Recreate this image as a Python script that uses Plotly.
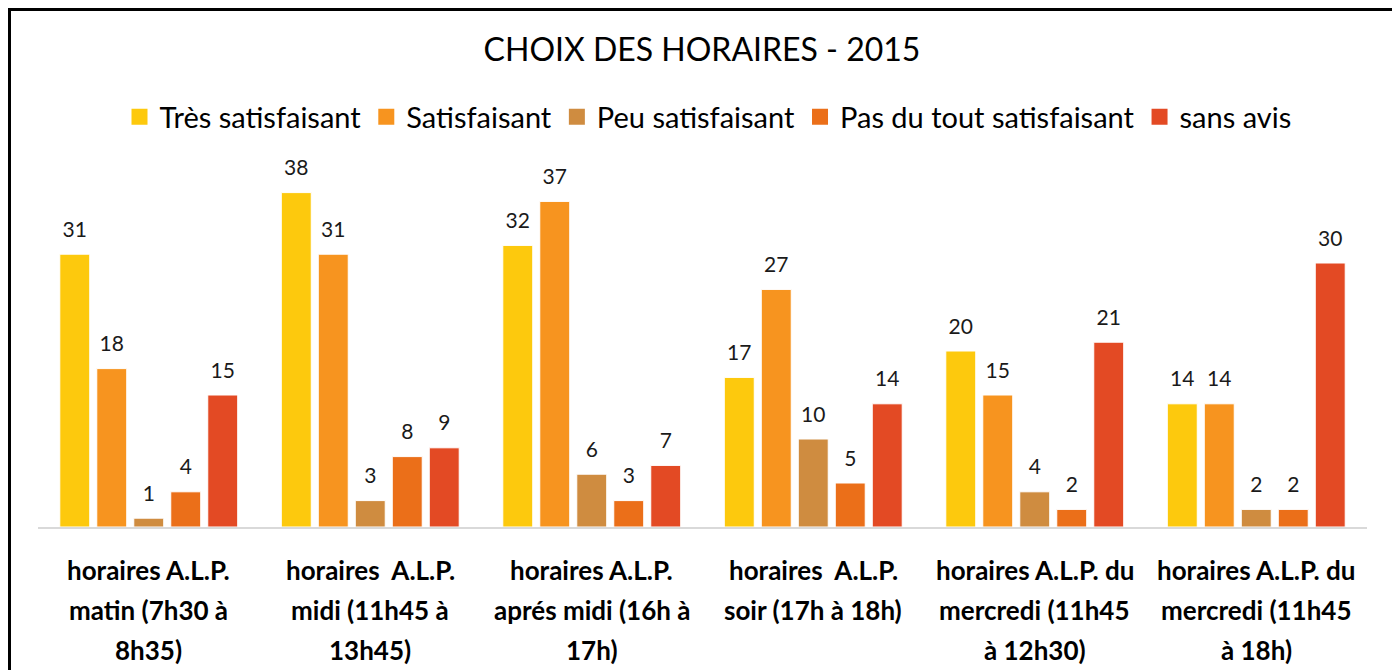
import plotly.graph_objects as go

categories = [
    "horaires A.L.P.<br>matin (7h30 à<br>8h35)",
    "horaires  A.L.P.<br>midi (11h45 à<br>13h45)",
    "horaires A.L.P.<br>aprés midi (16h à<br>17h)",
    "horaires  A.L.P.<br>soir (17h à 18h)",
    "horaires A.L.P. du<br>mercredi (11h45<br>à 12h30)",
    "horaires A.L.P. du<br>mercredi (11h45<br>à 18h)",
]
series_names = ["Très satisfaisant", "Satisfaisant", "Peu satisfaisant",
                "Pas du tout satisfaisant", "sans avis"]
tres_satisfaisant = [31, 38, 32, 17, 20, 14]
satisfaisant = [18, 31, 37, 27, 15, 14]
peu_satisfaisant = [1, 3, 6, 10, 4, 2]
pas_du_tout = [4, 8, 3, 5, 2, 2]
sans_avis = [15, 9, 7, 14, 21, 30]
title_text = "CHOIX DES HORAIRES - 2015"

series_values = [tres_satisfaisant, satisfaisant, peu_satisfaisant, pas_du_tout, sans_avis]
colors = ["#FDC90D", "#F7941F", "#CF8C40", "#EB6F19", "#E34A24"]

FONT = "Lato, 'Open Sans', sans-serif"
W, H = 1400, 670
L, R, T, B = 30, 41, 167, 151
PW, PH = W - L - R, H - T - B

fig = go.Figure()

for i, (name, vals, col) in enumerate(zip(series_names, series_values, colors)):
    fig.add_trace(go.Bar(
        x=categories, y=vals, name=name, offsetgroup=str(i),
        marker=dict(color=col, line=dict(color="white", width=1)),
        showlegend=False, hoverinfo="skip",
    ))
    fig.add_trace(go.Scatter(
        x=categories, y=vals, mode="markers+text", offsetgroup=str(i),
        text=[str(v) for v in vals], textposition="top center",
        textfont=dict(family=FONT, size=21, color="#1a1a1a"),
        marker=dict(size=18, opacity=0, color=col),
        showlegend=False, hoverinfo="skip", cliponaxis=False,
    ))
    fig.add_trace(go.Scatter(
        x=[None], y=[None], mode="markers", name=name, offsetgroup=str(i),
        marker=dict(symbol="square", size=18, color=col),
        showlegend=True,
    ))

# category labels (one annotation per line for Excel-like spacing)
annotations = []
for c in categories:
    for j, line in enumerate(c.split("<br>")):
        annotations.append(dict(
            x=c, y=0, xref="x", yref="paper", text="<b>" + line + "</b>",
            showarrow=False, yanchor="middle", yshift=-(43 + 40 * j),
            font=dict(family=FONT, size=26, color="black"),
        ))

fig.update_layout(
    width=W, height=H,
    paper_bgcolor="white", plot_bgcolor="white",
    margin=dict(l=L, r=R, t=T, b=B),
    barmode="group", bargap=0.165, bargroupgap=0.19,
    scattermode="group", scattergap=0.165,
    title=dict(text=title_text, x=(702 - 8) / W, xanchor="center", y=1 - (50 - 8) / H, yanchor="middle",
               font=dict(family=FONT, size=32, color="black")),
    legend=dict(orientation="h", x=(708 - 8 - L) / PW, xanchor="center", y=1 + (T - (117 - 8)) / PH,
                yanchor="middle",
                font=dict(family=FONT, size=29, color="black"), itemclick=False,
                bgcolor="rgba(0,0,0,0)"),
    xaxis=dict(showline=True, linecolor="#d9d9d9", linewidth=2, showticklabels=False,
               ticks="", showgrid=False, zeroline=False, fixedrange=True),
    yaxis=dict(visible=False, range=[0, 40], showgrid=False, zeroline=False, fixedrange=True),
    annotations=annotations,
    shapes=[dict(type="rect", xref="paper", yref="paper",
                 x0=(1.5 - L) / PW, x1=(1388 - L) / PW,
                 y0=-(B + 60) / PH, y1=1 + (T - 1.5) / PH,
                 line=dict(color="black", width=3), fillcolor="rgba(0,0,0,0)", layer="above")],
    showlegend=True,
)

fig.write_html("out.html")
